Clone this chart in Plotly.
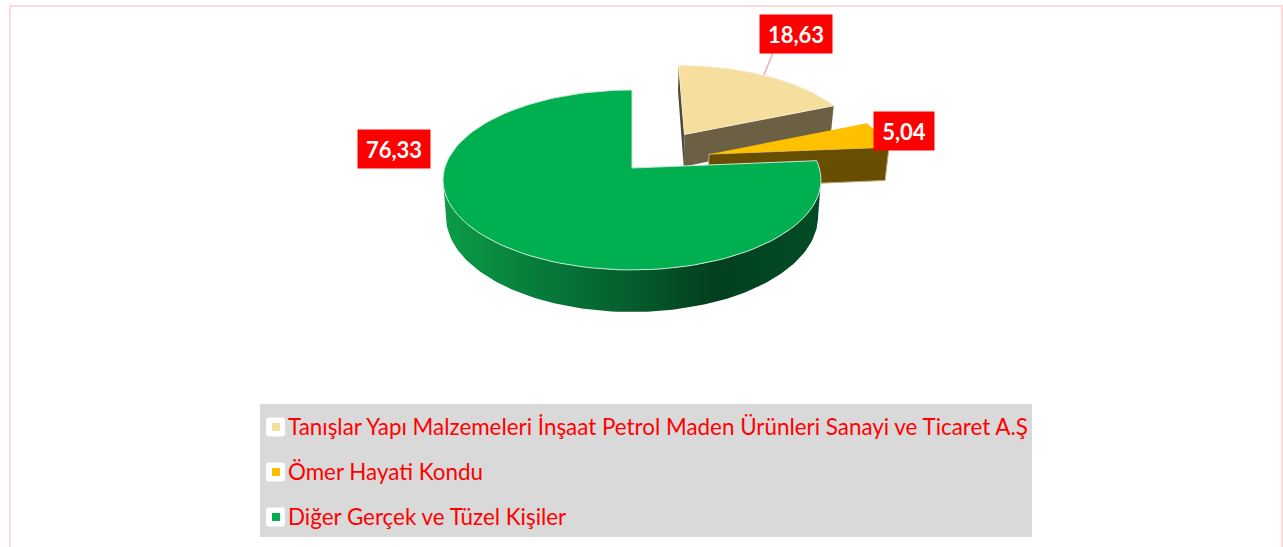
import math
import plotly.graph_objects as go

# ---------- data ----------
categories = [
    "Tanışlar Yapı Malzemeleri İnşaat Petrol Maden Ürünleri Sanayi ve Ticaret A.Ş",
    "Ömer Hayati Kondu",
    "Diğer Gerçek ve Tüzel Kişiler",
]
shares = [18.63, 5.04, 76.33]
value_labels = ["18,63", "5,04", "76,33"]

# ---------- styles ----------
top_colors = ["#F5DE9E", "#FFC000", "#00B050"]
wall_colors = ["#6B6043", "#674E00"]
FONT = "Lato"
W, H = 1283, 547

# projection of the tilted pie (plot units are pixels)
CX, CY, RX, RY, K = 632.0, 168.0, 187.3, 88.4, 0.133
explode = [(0.295, -0.40), (0.42, -0.16), (0.0, 0.0)]
radius = [0.97, 1.0, 1.0]


def project(u, v, z=0.0):
    den = 1 - K * v
    return (CX + RX * u / den * (1 - 0.015 * z),
            CY + RY * v / den + z * (35 + 7 * v))


def rim(a0, a1, off, r, z=0.0, steps=120):
    pts = []
    for i in range(steps + 1):
        a = math.radians(a0 + (a1 - a0) * i / steps)
        pts.append(project(r * math.sin(a) + off[0], -r * math.cos(a) + off[1], z))
    return pts


def poly(fig, pts, color, line=None):
    xs = [p[0] for p in pts] + [pts[0][0]]
    ys = [p[1] for p in pts] + [pts[0][1]]
    fig.add_trace(go.Scatter(
        x=xs, y=ys, mode="lines", fill="toself", fillcolor=color,
        line=dict(color=line or "rgba(0,0,0,0)", width=1 if line else 0),
        hoverinfo="skip", showlegend=False))


# slice angles from the shares
total = sum(shares)
bounds = [0.0]
for s in shares:
    bounds.append(bounds[-1] + s / total * 360)

fig = go.Figure()

# beige slice
a0, a1, off, r = bounds[0], bounds[1], explode[0], radius[0]
ap_t, ap_b = project(*off), project(*off, 1)
r_t, r_b = rim(a0, a1, off, r), rim(a0, a1, off, r, 1)
poly(fig, [r_t[0], ap_t, ap_b, r_b[0]], "#4F4A38")
poly(fig, [ap_t, r_t[-1], r_b[-1], ap_b], wall_colors[0])
poly(fig, [ap_t] + r_t, top_colors[0], line="#F7EBC8")

# orange slice
a0, a1, off, r = bounds[1], bounds[2], explode[1], radius[1]
ap_t, ap_b = project(*off), project(*off, 1)
r_t, r_b = rim(a0, a1, off, r), rim(a0, a1, off, r, 1)
poly(fig, [ap_t, r_t[-1], r_b[-1], ap_b], wall_colors[1], line="#BDB08A")
poly(fig, [ap_t] + r_t, top_colors[1])

# green slice: outer wall runs between the silhouette angles of the tilted rim
a0, a1, off, r = bounds[2], bounds[3], explode[2], radius[2]
ap_t = project(*off)
sil = math.degrees(math.acos(-K))
wall = rim(sil, 360 - sil, off, r) + rim(sil, 360 - sil, off, r, 1)[::-1]
fig.add_trace(go.Scatter(
    x=[p[0] for p in wall] + [wall[0][0]], y=[p[1] for p in wall] + [wall[0][1]],
    mode="lines", fill="toself", line=dict(width=0, color="rgba(0,0,0,0)"),
    fillgradient=dict(type="horizontal", colorscale=[
        [0.0, "#0B9C48"], [0.25, "#077C3B"], [0.5, "#055C2D"],
        [0.71, "#03401E"], [1.0, "#024C25"]]),
    hoverinfo="skip", showlegend=False))
poly(fig, [ap_t] + rim(a0, a1, off, r), top_colors[2], line="#C9E6D2")

# legend entries (text from the legend, swatches drawn to the reference's size)
for name in categories:
    fig.add_trace(go.Scatter(
        x=[None], y=[None], mode="markers", name=name, legendgroup=name,
        marker=dict(symbol="square", size=6, color="rgba(0,0,0,0)", line=dict(width=0)),
        hoverinfo="skip"))

rows = [427, 472, 517]
fig.add_trace(go.Scatter(
    x=[276] * 3, y=rows, mode="markers", showlegend=False, hoverinfo="skip",
    marker=dict(symbol="square", size=8, color=top_colors, line=dict(width=0))))

# data labels
boxes = [(796, 34), (904, 131), (394, 149)]
sizes = [(72, 38), (60, 38), (72, 38)]
for text, (bx, by), (bw, bh) in zip(value_labels, boxes, sizes):
    fig.add_annotation(
        x=bx, y=by, xref="x", yref="y", text=f"<b>{text}</b>", showarrow=False,
        width=bw, height=bh, bgcolor="#FF0000", borderpad=0, align="center", valign="middle",
        font=dict(family=FONT, size=22, color="white"))


def rounded(cx, cy, s=9.5, c=3):
    return (f"M {cx-s+c} {cy-s} L {cx+s-c} {cy-s} Q {cx+s} {cy-s} {cx+s} {cy-s+c} "
            f"L {cx+s} {cy+s-c} Q {cx+s} {cy+s} {cx+s-c} {cy+s} L {cx-s+c} {cy+s} "
            f"Q {cx-s} {cy+s} {cx-s} {cy+s-c} L {cx-s} {cy-s+c} Q {cx-s} {cy-s} {cx-s+c} {cy-s} Z")


shapes = [
    dict(type="rect", xref="x", yref="y", x0=260, x1=1032, y0=404, y1=537,
         fillcolor="#D9D9D9", line_width=0, layer="below"),
    dict(type="path", xref="x", yref="y",
         path="M 10 560 L 10 6 L 1282 6 L 1282 560",
         line=dict(color="#FFD9DB", width=2), layer="below"),
    dict(type="line", xref="x", yref="y", x0=773, y0=53, x1=763, y1=77,
         line=dict(color="#FFA6AC", width=1.5), layer="below"),
]
for ry in rows:
    shapes.append(dict(type="path", xref="x", yref="y", path=rounded(275.5, ry),
                       fillcolor="white", line_width=0, layer="below"))

fig.update_layout(
    width=W, height=H, autosize=False,
    margin=dict(l=0, r=0, t=0, b=0),
    paper_bgcolor="white", plot_bgcolor="white",
    xaxis=dict(range=[0, W], visible=False, fixedrange=True),
    yaxis=dict(range=[H, 0], visible=False, fixedrange=True),
    legend=dict(x=248 / W, xanchor="left", y=1 - 405 / H, yanchor="top",
                bgcolor="rgba(0,0,0,0)", tracegroupgap=13, itemwidth=30,
                font=dict(family=FONT, size=22.4, color="#FF0000")),
    shapes=shapes,
)

fig.write_html("out.html", config={"displayModeBar": False},
               post_script="document.body.style.margin='0';")
